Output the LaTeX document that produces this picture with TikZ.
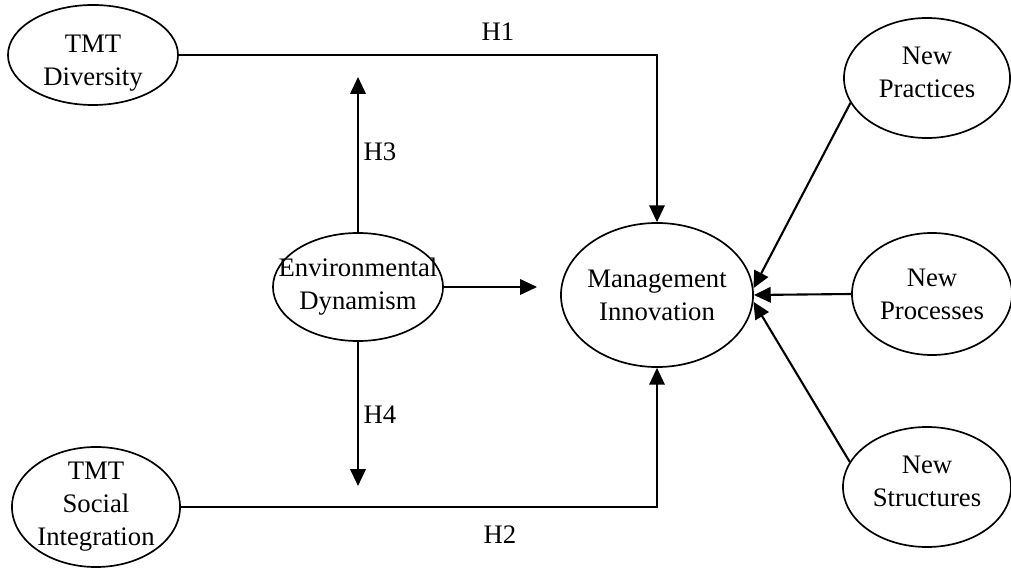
\documentclass[tikz,border=0pt]{standalone}
\usepackage{fontspec}
\setmainfont{Liberation Serif}
\usetikzlibrary{arrows.meta,shapes.geometric,positioning}
\tikzset{
  oval/.style={draw, ellipse, inner sep=0pt, line width=1.2pt},
  txt/.style={align=center, font=\fontsize{19}{23.5}\selectfont},
  arr/.style={-{Triangle[length=12pt,width=11pt]}, line width=1.5pt},
  line/.style={line width=1.5pt}
}

\begin{document}
\begin{tikzpicture}[x=0.025cm,y=-0.025cm]
\useasboundingbox (0,0) rectangle (1011,569);

% Draw constructs.
\node[oval, minimum width=4.25cm, minimum height=2.5cm,
  label={[txt,yshift=-6pt]center:TMT\\Diversity}] (div) at (93,55) {};
\node[oval, minimum width=4.2cm, minimum height=3cm,
  label={[txt]center:TMT\\Social\\Integration}] (soc) at (96,507) {};
\node[oval, minimum width=4.25cm, minimum height=2.7cm,
  label={[txt]center:Environmental\\Dynamism}] (env) at (358,287) {};
\node[oval, minimum width=4.8cm, minimum height=3.6cm,
  label={[txt]center:Management\\Innovation}] (mi) at (657,295) {};

% Draw dimensions.
\node[oval, minimum width=4.15cm, minimum height=3cm,
  label={[txt,yshift=4pt]center:New\\Practices}] (prac) at (927,78) {};
\node[oval, minimum width=4.0cm, minimum height=3.05cm,
  label={[txt]center:New\\Processes}] (proc) at (932,294) {};
\node[oval, minimum width=4.2cm, minimum height=3cm,
  label={[txt,yshift=4pt]center:New\\Structures}] (struc) at (927,487) {};

% Draw hypotheses.
\draw[arr] (div.east) -- (div.east -| mi.north) -- (mi.north);
\node[txt] (h1) at (498,32) {H1};
\draw[arr] (soc.east) -- (soc.east -| mi.south) -- (mi.south);
\node[txt] (h2) at (500,535) {H2};

% Draw moderation.
\coordinate (h3end) at (358,77);
\coordinate (h4end) at (358,486);
\coordinate (envend) at (537,287);
\draw[arr] (env.north) -- (h3end);
\node[txt] (h3) at (380,152) {H3};
\draw[arr] (env.south) -- (h4end);
\node[txt] (h4) at (380,415) {H4};
\draw[arr] (env.east) -- (envend);

% Draw formative arrows.
\draw[arr] (prac.198) -- (mi.4);
\draw[arr] (proc.west) -- (mi.east);
\draw[arr] (struc.162) -- (mi.-4);
\end{tikzpicture}
\end{document}
